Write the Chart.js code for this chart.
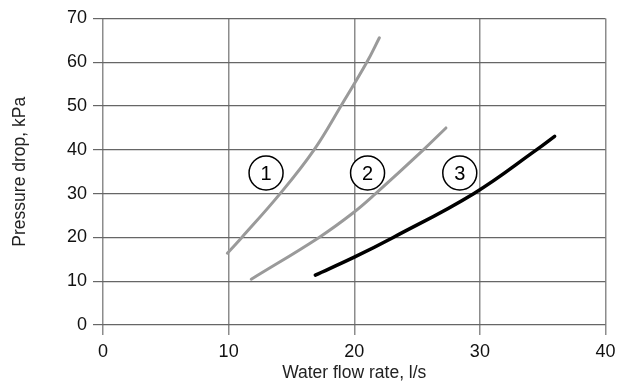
<!DOCTYPE html>
<html>
<head>
<meta charset="utf-8">
<script src="https://cdn.jsdelivr.net/npm/chart.js@4"></script>
<style>
  html, body { margin: 0; padding: 0; background: #fff; }
  #wrap { width: 624px; height: 385px; }
</style>
</head>
<body>
<div id="wrap"><canvas id="pressureChart"></canvas></div>
<script>
// -----------------------
// data
// -----------------------
const xTicks = [0, 10, 20, 30, 40];
const yTicks = [0, 10, 20, 30, 40, 50, 60, 70];

const curve1X = [9.9, 11.05, 14.1, 16.8, 19.0, 21.0, 22.0];
const curve1Y = [16.4, 20, 30, 40, 50.3, 60, 65.6];

const curve2X = [11.8, 17.2, 20.0, 21.7, 25.5, 27.3];
const curve2Y = [10.45, 20, 25.8, 30, 40, 45.0];

const curve3X = [16.9, 20.0, 23.1, 29.5, 34.5, 35.95];
const curve3Y = [11.4, 15.5, 20, 30, 40, 43.1];

const markerLabels = ["1", "2", "3"];
const markerX = [12.98, 21.06, 28.4];
const markerY = [34.7, 34.7, 34.7];

const toPoints = (xs, ys) => xs.map((x, i) => ({ x: x, y: ys[i] }));

// circled numbers text
const markerText = {
    id: "markerText",
    afterDatasetsDraw(chart) {
        const { ctx, scales } = chart;
        ctx.save();
        ctx.fillStyle = "#000";
        ctx.font = "20px 'Liberation Sans', Arial, sans-serif";
        ctx.textAlign = "center";
        ctx.textBaseline = "middle";
        markerLabels.forEach((t, i) => {
            const px = scales.x.getPixelForValue(markerX[i]);
            const py = scales.y.getPixelForValue(markerY[i]);
            ctx.fillText(t, px, py + 1);
        });
        ctx.restore();
    }
};

const lineStyle = {
    pointRadius: 0,
    borderCapStyle: "round",
    borderJoinStyle: "round",
    tension: 0.4,
    fill: false
};

const fontFamily = "'Liberation Sans', Arial, sans-serif";

new Chart(document.getElementById("pressureChart").getContext("2d"), {
    type: "line",
    data: {
        datasets: [
            Object.assign({ data: toPoints(curve1X, curve1Y), borderColor: "#9a9a9a", borderWidth: 3 }, lineStyle),
            Object.assign({ data: toPoints(curve2X, curve2Y), borderColor: "#9a9a9a", borderWidth: 3 }, lineStyle),
            Object.assign({ data: toPoints(curve3X, curve3Y), borderColor: "#000", borderWidth: 3.5 }, lineStyle),
            {
                type: "scatter",
                data: toPoints(markerX, markerY),
                pointRadius: 17,
                pointHoverRadius: 17,
                pointBackgroundColor: "#fff",
                pointBorderColor: "#000",
                pointBorderWidth: 1.5
            }
        ]
    },
    options: {
        responsive: true,
        maintainAspectRatio: false,
        animation: false,
        layout: { padding: { top: 17, right: 15, left: 0, bottom: 0 } },
        plugins: { legend: { display: false }, tooltip: { enabled: false } },
        scales: {
            x: {
                type: "linear",
                min: 0,
                max: 40,
                afterBuildTicks: s => { s.ticks = xTicks.map(v => ({ value: v })); },
                afterFit: s => { s.height = 60; },
                grid: { color: "#8c8c8c", lineWidth: 1.5, tickLength: 10 },
                border: { display: false },
                ticks: {
                    color: "#111",
                    padding: 6,
                    font: { family: fontFamily, size: 18 }
                },
                title: {
                    display: true,
                    text: "Water flow rate, l/s",
                    color: "#222",
                    padding: { top: 0, bottom: 1.5 },
                    font: { family: fontFamily, size: 17.5 }
                }
            },
            y: {
                type: "linear",
                min: 0,
                max: 70,
                afterBuildTicks: s => { s.ticks = yTicks.map(v => ({ value: v })); },
                afterFit: s => { s.width = 103; },
                grid: { color: "#666", lineWidth: 1.2, tickLength: 10 },
                border: { display: false },
                ticks: {
                    color: "#111",
                    padding: 6,
                    font: { family: fontFamily, size: 18 }
                },
                title: {
                    display: true,
                    text: "Pressure drop, kPa",
                    color: "#222",
                    padding: { top: 9.5, bottom: 0 },
                    font: { family: fontFamily, size: 17.5 }
                }
            }
        }
    },
    plugins: [markerText]
});
</script>
</body>
</html>
